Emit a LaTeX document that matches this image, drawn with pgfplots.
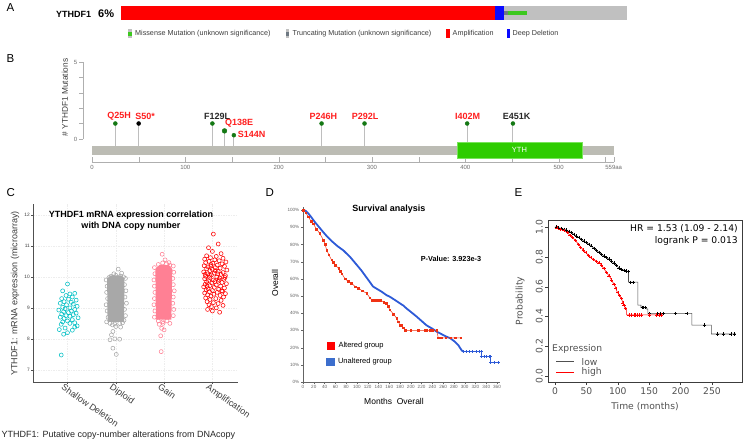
\documentclass[border=0pt]{standalone}
\usepackage{pgfplots}
\pgfplotsset{compat=1.18}
\usepgfplotslibrary{statistics}
\usepackage{fontspec}
\setmainfont{Liberation Sans}
\newfontfamily\dejavu{DejaVu Sans}
\newcommand\fs[1]{\fontsize{#1}{\dimexpr#1pt*6/5\relax}\selectfont}
\definecolor{agray}{RGB}{192,192,192}
\definecolor{ared}{RGB}{255,0,0}
\definecolor{ablue}{RGB}{10,10,255}
\definecolor{agreen}{RGB}{60,200,30}
\definecolor{atrunc}{RGB}{110,120,130}
\definecolor{atext}{RGB}{60,60,60}
\definecolor{bgray}{RGB}{175,175,175}
\definecolor{btext}{RGB}{110,110,110}
\definecolor{prot}{RGB}{188,188,180}
\definecolor{yth}{RGB}{46,204,0}
\definecolor{ythb}{RGB}{120,228,90}
\definecolor{head}{RGB}{20,120,20}
\definecolor{lred}{RGB}{255,30,30}
\definecolor{ldark}{RGB}{40,40,40}
\definecolor{stemc}{RGB}{190,190,190}
\definecolor{ccyan}{RGB}{0,191,196}
\definecolor{cdip}{RGB}{168,168,168}
\definecolor{cgain}{RGB}{255,128,148}
\definecolor{camp}{RGB}{255,0,0}
\definecolor{boxfill}{RGB}{235,235,235}
\definecolor{boxline}{RGB}{205,205,205}
\definecolor{medline}{RGB}{175,175,175}
\definecolor{cline}{RGB}{80,80,80}
\definecolor{ctext}{RGB}{60,60,60}
\definecolor{dblue}{RGB}{45,90,215}
\definecolor{dblueleg}{RGB}{60,110,205}
\definecolor{dred}{RGB}{240,50,20}
\definecolor{dline}{RGB}{100,100,100}
\definecolor{eline}{RGB}{60,60,60}
\definecolor{egray}{RGB}{80,80,80}
\begin{document}
\begin{tikzpicture}[x=1pt,y=1pt]
\useasboundingbox (0,0) rectangle (750,445);
%%%%%%%%%%%%%%%% PANEL A
\node[anchor=west,font=\fs{11.5}] at (3,437.5) {A};
\node[anchor=west,font=\fs{9}\bfseries,inner sep=0pt] at (56,431) {YTHDF1};
\node[anchor=west,font=\fs{11}\bfseries,inner sep=0pt] at (98,431) {6\%};
\begin{axis}[at={(121pt,425pt)},anchor=south west,scale only axis,width=506pt,height=14pt,
  xmin=0,xmax=506,ymin=0,ymax=1,hide axis,clip=false]
\addplot[fill=agray,draw=none] coordinates {(0,0)(506,0)(506,1)(0,1)} --cycle;
\addplot[fill=ared,draw=none] coordinates {(0,0)(374,0)(374,1)(0,1)} --cycle;
\addplot[fill=ablue,draw=none] coordinates {(374,0)(383,0)(383,1)(374,1)} --cycle;
\addplot[fill=atrunc,draw=none] coordinates {(383,0.33)(387,0.33)(387,0.67)(383,0.67)} --cycle;
\addplot[fill=agreen,draw=none] coordinates {(387,0.33)(406,0.33)(406,0.67)(387,0.67)} --cycle;
\end{axis}
\fill[agray] (128,406.5) rectangle (131.5,415.5); \fill[agreen] (128,409) rectangle (131.5,413);
\node[anchor=west,font=\fs{7.2},text=atext,inner sep=0pt] at (135,411) {Missense Mutation (unknown significance)};
\fill[agray] (285.5,406.5) rectangle (289,415.5); \fill[atrunc] (285.5,409) rectangle (289,413);
\node[anchor=west,font=\fs{7.2},text=atext,inner sep=0pt] at (292.5,411) {Truncating Mutation (unknown significance)};
\fill[ared] (446,406.5) rectangle (449.5,415.5);
\node[anchor=west,font=\fs{7.2},text=atext,inner sep=0pt] at (452.5,411) {Amplification};
\fill[ablue] (506.5,406.5) rectangle (510,415.5);
\node[anchor=west,font=\fs{7.2},text=atext,inner sep=0pt] at (512.5,411) {Deep Deletion};
%%%%%%%%%%%%%%%% PANEL B
\node[anchor=west,font=\fs{11.5}] at (3,386) {B};
\node[rotate=90,font=\fs{8.3},text=ctext] at (65,347.5) {\# YTHDF1 Mutations};
\begin{axis}[at={(83pt,306pt)},anchor=south west,scale only axis,width=10pt,height=77pt,
  xmin=0,xmax=1,ymin=0,ymax=5,axis y line=left,axis x line=none,axis line style={-,bgray},
  ytick={0,1,2,3,4,5},yticklabels={0,,,,,5},tick align=outside,major tick length=4pt,
  tick style={bgray},yticklabel style={font=\fs{6},text=btext,inner sep=1.5pt}]
\addplot[draw=none] coordinates {(0,0)};
\end{axis}
\begin{axis}[at={(92pt,283pt)},anchor=south west,scale only axis,width=521.7pt,height=100.1pt,
  xmin=0,xmax=559,ymin=-1.5,ymax=5,axis x line=bottom,axis y line=none,axis line style={-,bgray},
  xtick={0,100,200,300,400,500,559},xticklabels={0,100,200,300,400,500,559aa},
  minor xtick={50,150,250,350,450,550},tick align=inside,major tick length=5pt,minor tick length=5pt,
  tick style={bgray},xticklabel style={font=\fs{6},text=btext},clip=false,unbounded coords=jump]
\addplot[stemc,line width=1pt] coordinates {(25,-0.5)(25,1) (25,nan) (50,-0.5)(50,1) (50,nan)
  (129,-0.5)(129,1) (129,nan) (142,-0.5)(142,0.52) (142,nan) (152,-0.5)(152,0.24) (152,nan)
  (246,-0.5)(246,1) (246,nan) (292,-0.5)(292,1) (292,nan) (402,-0.5)(402,1) (402,nan) (451,-0.5)(451,1)};
\addplot[fill=prot,draw=none] coordinates {(0,-0.455)(559,-0.455)(559,-1.04)(0,-1.04)} --cycle;
\addplot[fill=yth,draw=ythb,line width=0.6pt] coordinates {(391,-0.195)(525,-0.195)(525,-1.234)(391,-1.234)} --cycle;
\node[text=white,font=\fs{7.5}] at (axis cs:458,-0.71) {YTH};
\addplot[only marks,mark=*,mark size=2pt,head] coordinates {(25,1)(129,1)(152,0.24)(246,1)(292,1)(402,1)(451,1)};
\addplot[only marks,mark=*,mark size=2.4pt,head] coordinates {(142,0.52)};
\addplot[only marks,mark=*,mark size=2pt,black] coordinates {(50,1)};
\node[font=\fs{9}\bfseries,text=lred] at (axis cs:29,1.49) {Q25H};
\node[font=\fs{9}\bfseries,text=lred] at (axis cs:57,1.49) {S50*};
\node[font=\fs{9}\bfseries,text=ldark] at (axis cs:134,1.49) {F129L};
\node[font=\fs{9}\bfseries,text=lred] at (axis cs:157.6,1.04) {Q138E};
\node[font=\fs{9}\bfseries,text=lred] at (axis cs:171,0.32) {S144N};
\node[font=\fs{9}\bfseries,text=lred] at (axis cs:248,1.49) {P246H};
\node[font=\fs{9}\bfseries,text=lred] at (axis cs:292.6,1.49) {P292L};
\node[font=\fs{9}\bfseries,text=lred] at (axis cs:402.5,1.49) {I402M};
\node[font=\fs{9}\bfseries,text=ldark] at (axis cs:455,1.49) {E451K};
\end{axis}
%%%%%%%%%%%%%%%% PANEL C
\node[anchor=west,font=\fs{11.5}] at (3,252.5) {C};
\node[rotate=90,font=\fs{9},text=ctext] at (15,151.5) {YTHDF1: mRNA expression (microarray)};
\node[anchor=west,font=\fs{9},text=black!85,inner sep=0pt] at (1.5,10) {YTHDF1: Putative copy-number alterations from DNAcopy};
\begin{axis}[at={(33pt,63pt)},anchor=south west,scale only axis,width=205pt,height=178pt,
  xmin=0.286,xmax=4.53,ymin=6.61,ymax=12.35,axis x line=bottom,axis y line=left,
  axis line style={-,cline},tick style={cline},tick align=outside,major tick length=2pt,
  xtick={1,2,3,4},xticklabels={Shallow Deletion,Diploid,Gain,Amplification},
  ytick={7,8,9,10,11,12},yticklabels={7,8,9,10,11,12},
  yticklabel style={font=\fs{4.8},text=ctext,inner sep=1pt},
  xticklabel style={font=\fs{9},rotate=-35,anchor=north west,inner sep=1pt,xshift=-4pt,text=ctext},
  grid=major,grid style={gray!14,dash pattern=on 1.5pt off 1pt,line width=0.4pt},clip=false,
  boxplot/every box/.style={fill=boxfill,draw=none},
  boxplot/every median/.style={draw=medline,line width=0.8pt},
  boxplot/every whisker/.style={draw=boxline,line width=0.7pt}]
\addplot[boxline,boxplot prepared={draw position=1,lower whisker=7.97,lower quartile=8.62,median=8.75,upper quartile=9.13,upper whisker=9.77,box extend=0.65,whisker extend=0.62}] coordinates {};
\addplot[boxline,boxplot prepared={draw position=2,lower whisker=8.36,lower quartile=9.01,median=9.2,upper quartile=9.42,upper whisker=10.1,box extend=0.65,whisker extend=0.62}] coordinates {};
\addplot[boxline,boxplot prepared={draw position=3,lower whisker=8.44,lower quartile=9.26,median=9.54,upper quartile=9.77,upper whisker=10.58,box extend=0.65,whisker extend=0.62}] coordinates {};
\addplot[boxline,boxplot prepared={draw position=4,lower whisker=8.86,lower quartile=9.62,median=9.93,upper quartile=10.23,upper whisker=11.2,box extend=0.65,whisker extend=0.62}] coordinates {};
% Shallow deletion
\addplot[only marks,mark=o,mark size=2pt,ccyan,line width=0.55pt] coordinates {
(1.00,9.77)(0.90,9.55)(1.05,9.45)(1.15,9.47)(0.97,9.40)(1.10,9.35)(0.88,9.30)(1.02,9.28)(1.18,9.25)
(0.93,9.20)(1.08,9.18)(0.85,9.15)(1.12,9.12)(0.98,9.10)(1.20,9.05)(0.90,9.02)(1.05,9.00)(0.95,8.97)
(1.15,8.95)(0.82,8.93)(1.08,8.90)(0.92,8.88)(1.02,8.85)(1.18,8.83)(0.88,8.80)(1.12,8.78)(0.97,8.75)
(1.05,8.73)(0.85,8.70)(1.22,8.68)(0.93,8.66)(1.10,8.62)(1.00,8.58)(0.90,8.55)(1.15,8.52)(1.05,8.50)
(0.87,8.47)(1.20,8.42)(0.95,8.35)(0.83,8.30)(1.10,8.28)(1.00,8.20)(0.92,8.15)(1.15,8.38)(0.87,7.48)};
% Diploid
\addplot[fill=cdip,draw=none] coordinates {(1.83,8.55)(2.17,8.55)(2.18,9.95)(2.1,10.05)(1.9,10.05)(1.82,9.95)} --cycle;
\addplot[only marks,mark=o,mark size=2pt,cdip,line width=0.55pt] coordinates {
(1.80,9.9)(1.82,9.7)(1.81,9.5)(1.83,9.3)(1.80,9.1)(1.82,8.9)(1.84,8.7)(1.81,8.55)
(2.20,9.95)(2.18,9.75)(2.21,9.55)(2.19,9.35)(2.22,9.15)(2.18,8.95)(2.20,8.75)(2.17,8.6)
(1.90,10.02)(2.00,10.05)(2.10,10.03)(2.05,10.25)(2.12,10.12)(1.96,10.1)(1.86,9.98)(2.16,10.0)
(1.88,8.5)(1.98,8.48)(2.08,8.5)(2.14,8.52)(2.00,8.40)(1.94,8.24)(1.91,8.13)(1.88,7.97)(1.98,8.0)
(2.08,7.99)(1.94,7.70)(2.01,7.50)(2.10,8.38)(1.93,8.45)};
% Gain
\addplot[fill=cgain,draw=none] coordinates {(2.83,8.62)(3.15,8.62)(3.17,10.25)(3.1,10.38)(2.9,10.38)(2.82,10.25)} --cycle;
\addplot[only marks,mark=o,mark size=2pt,cgain,line width=0.55pt] coordinates {
(2.80,10.3)(2.81,10.1)(2.79,9.9)(2.80,9.7)(2.81,9.5)(2.80,9.3)(2.79,9.1)(2.81,8.9)(2.80,8.7)
(3.19,10.35)(3.20,10.15)(3.18,9.95)(3.19,9.75)(3.21,9.55)(3.19,9.35)(3.18,9.15)(3.20,8.95)(3.19,8.75)
(2.88,10.4)(2.97,10.45)(3.05,10.42)(3.12,10.38)(2.96,10.73)(3.10,10.46)(3.02,10.55)
(2.88,8.58)(2.97,8.55)(3.06,8.58)(3.12,8.5)(2.90,8.47)(2.98,8.5)(2.95,8.34)(3.00,8.29)(2.93,8.1)(2.94,7.59)};
% Amplification
\addplot[only marks,mark=o,mark size=2pt,camp,line width=0.55pt] coordinates {
(4.02,11.38)(4.12,11.06)(3.92,10.94)(4.00,10.82)(4.18,10.75)(3.88,10.68)(4.08,10.66)(3.96,10.62)
(4.22,10.60)(3.84,10.57)(4.05,10.55)(4.14,10.52)(3.93,10.50)(4.28,10.48)(3.86,10.46)(4.01,10.44)
(4.20,10.42)(3.97,10.40)(4.10,10.38)(3.83,10.36)(4.25,10.34)(3.91,10.32)(4.06,10.30)(4.16,10.28)
(3.88,10.26)(4.00,10.24)(4.30,10.22)(3.95,10.20)(4.12,10.18)(3.82,10.16)(4.22,10.14)(4.04,10.12)
(3.90,10.10)(4.18,10.08)(3.98,10.06)(4.27,10.04)(3.86,10.02)(4.09,10.00)(3.94,9.98)(4.15,9.96)
(3.84,9.94)(4.24,9.92)(4.02,9.90)(3.92,9.88)(4.12,9.86)(3.88,9.84)(4.20,9.82)(3.99,9.80)
(4.29,9.78)(3.85,9.76)(4.08,9.74)(3.95,9.72)(4.17,9.70)(3.82,9.68)(4.04,9.66)(4.25,9.64)
(3.91,9.62)(4.13,9.60)(3.87,9.58)(4.00,9.56)(4.21,9.54)(3.94,9.52)(4.10,9.50)(3.84,9.48)
(4.27,9.46)(4.03,9.44)(3.90,9.42)(4.16,9.40)(3.97,9.38)(4.23,9.35)(3.86,9.32)(4.07,9.30)
(3.95,9.27)(4.18,9.24)(3.89,9.20)(4.02,9.17)(4.12,9.14)(3.93,9.10)(4.22,9.08)(3.98,9.04)
(4.08,9.00)(3.90,8.95)(4.00,8.90)(4.15,8.86)(4.06,10.20)(3.94,10.05)(4.14,9.90)(3.89,9.70)
(4.19,9.55)(4.05,9.85)(3.97,10.35)(4.11,10.10)(3.85,10.08)(4.26,9.98)};
\end{axis}
\node[align=center,font=\fs{9}\bfseries] at (131,224) {YTHDF1 mRNA expression correlation\\with DNA copy number};
%%%%%%%%%%%%%%%% PANEL D
\node[anchor=west,font=\fs{11.5}] at (262,252.5) {D};
\node[font=\fs{9}\bfseries] at (388.8,236) {Survival analysis};
\node[font=\fs{7.3}\bfseries] at (451,186) {P-Value: 3.923e-3};
\node[rotate=90,font=\fs{8.5}] at (275,162) {Overall};
\node[font=\fs{8.5}] at (394,44) {Months\ \ Overall};
\begin{axis}[at={(303pt,63pt)},anchor=south west,scale only axis,width=196.7pt,height=175.4pt,
  xmin=0,xmax=365,ymin=0,ymax=102,axis x line=bottom,axis y line=left,axis line style={-,dline},
  tick style={dline},tick align=outside,major tick length=2pt,
  xtick={0,20,40,60,80,100,120,140,160,180,200,220,240,260,280,300,320,340,360},
  xticklabels={0,20,40,60,80,100,120,140,160,180,200,220,240,260,280,300,320,340,360},
  ytick={0,10,20,30,40,50,60,70,80,90,100},
  yticklabels={0\%,10\%,20\%,30\%,40\%,50\%,60\%,70\%,80\%,90\%,100\%},
  xticklabel style={font=\fs{4.6},text=dline,inner sep=1.5pt},
  yticklabel style={font=\fs{4.6},text=dline,inner sep=1.5pt},clip=false]
\addplot[dblue,line width=1.8pt,line join=round] coordinates {
(0,100)(5,99.5)(10,98)(15,96)(22,93)(30,90)(38,87)(45,84.5)(53,82)(64,79)(75,76.5)(88,72.5)
(100,68)(108,65)(115,62)(122,59)(130,55.5)(138,54)(146,52.5)(155,50.5)(161,49.6)(170,47.8)
(180,45.7)(186,44.5)(192,42.8)(200,40.8)(211,38)(220,35.5)(229,33)(240,31)(248,29.3)(256,28)
(266,26.4)(273,25.5)(282,23.4)(288,21.5)(294,18.6)(297,17.7)};
\addplot[dblue,line width=0.8pt,mark=+,mark size=1.5pt] coordinates {
(297,17.7)(303,17.7)(309,17.7)(315,17.7)(322,17.7)(328,17.7)(331,17.7)(331,14.7)(336,14.7)(341,14.7)(346,14.7)(348,14.7)(348,11.2)(355,11.2)(362,11.2)};
\addplot[dred,line width=0.5pt,mark=square*,mark size=0.8pt] coordinates {
(0,100)(5,98.5)(10,96)(15,93.5)(19,92)(25,89)(31,86.4)(38,82.5)(41,80)(44,76.7)(48,74)(53,71)
(56,69.5)(60,68)(66,66)(69,64.5)(72,63)(78,60)(84,58.5)(90,57.4)(97,55.5)(103,54.5)(110,53)
(118,51.6)(124,49)(128,47.7)(133,47.7)(138,47.7)(143,47.7)(150,46.5)(155,45.7)(158,44)
(161,41.9)(168,39.5)(174,37)(177,35)(180,33)(183,33)(186,31.5)(190,30)(200,30)(214,30)
(226,30)(229,30)(236,30)(241,30)(248,30)(251,25.7)(257,25.7)(265,25.7)(274,25.7)(282,25.7)(293,25.7)};
\end{axis}
\fill[ared] (326.5,95) rectangle (334.5,103);
\node[anchor=west,font=\fs{7.5},inner sep=0pt] at (338.3,99) {Altered group};
\fill[dblueleg] (326,79) rectangle (334.5,87);
\node[anchor=west,font=\fs{7.5},inner sep=0pt] at (337.8,83) {Unaltered group};
%%%%%%%%%%%%%%%% PANEL E
\node[anchor=west,font=\fs{11.5}] at (511,252.5) {E};
\begin{axis}[at={(548pt,63pt)},anchor=south west,scale only axis,width=194pt,height=162pt,
  xmin=-11.1,xmax=297.8,ymin=-0.04,ymax=1.047,axis line style={eline},tick style={eline},
  tick align=outside,major tick length=3pt,tick pos=left,
  xtick={0,50,100,150,200,250},xticklabels={0,50,100,150,200,250},
  ytick={0,0.2,0.4,0.6,0.8,1},yticklabels={0.0,0.2,0.4,0.6,0.8,1.0},
  xticklabel style={font=\dejavu\fs{9.2},text=egray,inner sep=2pt},
  yticklabel style={font=\dejavu\fs{9.2},text=egray,rotate=90,anchor=south,inner sep=2pt},clip=false]
\addplot[egray,line width=0.6pt] coordinates {
(0,1.0)(5,0.997)(10,0.99)(18,0.98)(25,0.965)(32,0.945)(40,0.924)(48,0.90)(56,0.88)(64,0.85)
(72,0.823)(80,0.80)(88,0.78)(96,0.75)(103,0.72)(110,0.71)(117,0.70)(117,0.63)(132,0.63)(132,0.476)
(137,0.476)(137,0.46)(146,0.46)(146,0.45)(148,0.45)(148,0.42)(218,0.42)(218,0.342)(249,0.342)(249,0.282)(288,0.282)};
\addplot[only marks,black,mark=+,mark size=1.6pt,line width=0.5pt] coordinates {
(2,1.0)(6,0.995)(10,0.99)(14,0.985)(18,0.98)(22,0.972)(26,0.962)(30,0.952)(34,0.94)(38,0.93)
(42,0.918)(46,0.906)(50,0.895)(54,0.885)(58,0.874)(62,0.858)(66,0.845)(70,0.83)(74,0.818)(78,0.806)
(82,0.795)(86,0.785)(90,0.772)(94,0.758)(98,0.742)(102,0.725)(106,0.716)(110,0.71)(114,0.705)(117,0.70)
(120,0.63)(125,0.63)(139,0.46)(141,0.46)(144,0.46)(150,0.42)(163,0.42)(167,0.42)(172,0.42)(192,0.42)
(210,0.42)(238,0.342)(259,0.282)(268,0.282)(280,0.282)(286,0.282)};
\addplot[red,line width=0.6pt] coordinates {
(0,1.0)(6,0.99)(12,0.98)(18.6,0.968)(25,0.94)(32,0.913)(38,0.88)(45,0.846)(52,0.815)(58,0.79)
(65,0.772)(72,0.756)(78,0.72)(83,0.69)(88,0.66)(92,0.63)(96,0.60)(99,0.565)(102,0.545)(106,0.52)
(108,0.49)(110,0.475)(112,0.455)(114,0.455)(114,0.41)(172,0.41)};
\addplot[only marks,red,mark=+,mark size=1.6pt,line width=0.5pt] coordinates {
(3,0.995)(8,0.985)(14,0.975)(20,0.962)(24,0.945)(28,0.928)(33,0.908)(37,0.885)(41,0.865)(45,0.846)
(49,0.828)(53,0.81)(57,0.794)(61,0.782)(66,0.77)(70,0.76)(74,0.745)(78,0.72)(82,0.696)(86,0.672)
(90,0.645)(94,0.615)(97,0.59)(100,0.56)(103,0.54)(106,0.52)(108,0.49)(110,0.475)(112,0.455)(118,0.41)
(122,0.41)(126,0.41)(128,0.41)(131,0.41)(134,0.41)(137,0.41)(150,0.41)(162,0.41)(166,0.41)(170,0.41)};
\end{axis}
\node[anchor=east,font=\dejavu\fs{9.2},inner sep=0pt] at (738,216) {HR = 1.53 (1.09 - 2.14)};
\node[anchor=east,font=\dejavu\fs{9.2},inner sep=0pt] at (738,204) {logrank P = 0.013};
\node[rotate=90,font=\dejavu\fs{9.2},text=egray] at (520,144) {Probability};
\node[font=\dejavu\fs{9.2},text=egray] at (645,38) {Time (months)};
\node[anchor=west,font=\dejavu\fs{9.2},text=egray,inner sep=0pt] at (552,96) {Expression};
\draw[egray,line width=0.6pt] (556,83.3) -- (574,83.3);
\node[anchor=west,font=\dejavu\fs{9.2},text=egray,inner sep=0pt] at (581.5,83.3) {low};
\draw[red,line width=0.6pt] (556,72.5) -- (574,72.5);
\node[anchor=west,font=\dejavu\fs{9.2},text=egray,inner sep=0pt] at (581.5,73.3) {high};
\end{tikzpicture}
\end{document}
